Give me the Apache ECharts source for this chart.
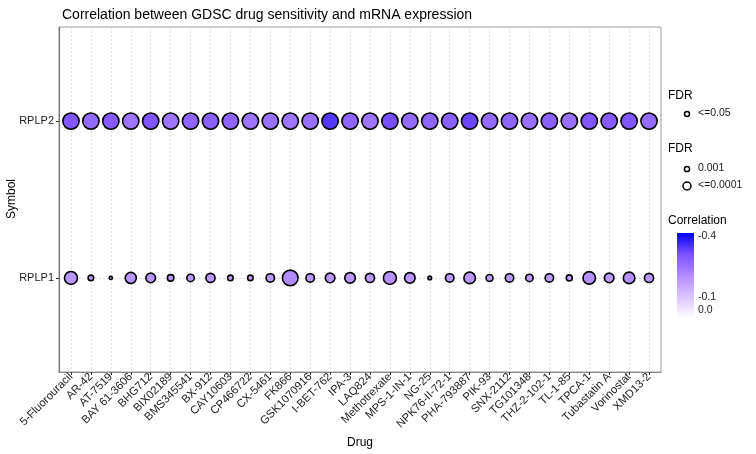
<!DOCTYPE html>
<html>
<head>
<meta charset="utf-8">
<script src="https://cdn.jsdelivr.net/npm/echarts@6/dist/echarts.min.js"></script>
<style>html,body{margin:0;padding:0;background:#fff}#c{width:756px;height:454px}</style>
</head>
<body>
<div id="c"></div>
<script>
const drugs = ["5-Fluorouracil","AR-42","AT-7519","BAY 61-3606","BHG712","BIX02189","BMS345541","BX-912","CAY10603","CP466722","CX-5461","FK866","GSK1070916","I-BET-762","IPA-3","LAQ824","Methotrexate","MPS-1-IN-1","NG-25","NPK76-II-72-1","PHA-793887","PIK-93","SNX-2112","TG101348","THZ-2-102-1","TL-1-85","TPCA-1","Tubastatin A","Vorinostat","XMD13-2"];
const symbols = ["RPLP1","RPLP2"];
// correlation values
const corrRPLP1 = [-0.19,-0.18,-0.17,-0.19,-0.19,-0.18,-0.18,-0.19,-0.18,-0.18,-0.19,-0.21,-0.19,-0.19,-0.19,-0.19,-0.20,-0.19,-0.17,-0.19,-0.19,-0.18,-0.19,-0.18,-0.19,-0.18,-0.20,-0.19,-0.20,-0.19];
const corrRPLP2 = [-0.31,-0.27,-0.30,-0.25,-0.31,-0.25,-0.28,-0.29,-0.28,-0.25,-0.26,-0.25,-0.26,-0.35,-0.28,-0.25,-0.32,-0.27,-0.28,-0.29,-0.33,-0.27,-0.28,-0.26,-0.29,-0.26,-0.31,-0.30,-0.31,-0.27];
// -log10(FDR)
const nlogFdrRPLP1 = [5.4,2.3,1.3,4.6,4.0,2.7,3.1,3.8,2.3,2.3,3.5,6.5,3.5,4.0,4.4,3.8,5.4,4.4,1.5,3.5,4.8,2.9,3.5,3.1,3.5,2.5,5.2,4.0,4.8,3.8];
const nlogFdrRPLP2 = [6.8,6.8,6.8,6.8,6.8,6.8,6.8,6.8,6.8,6.8,6.8,6.8,6.8,6.8,6.8,6.8,6.8,6.8,6.8,6.8,6.8,6.8,6.8,6.8,6.8,6.8,6.8,6.8,6.8,6.8];
const corrTicks = ["-0.4","-0.1","0.0"];

const stops = ['#0000ff','#7e52ff','#b38bff','#dcc4ff','#ffffff'];
const data = [];
[[corrRPLP1,nlogFdrRPLP1],[corrRPLP2,nlogFdrRPLP2]].forEach((pair,gi)=>{
  drugs.forEach((d,i)=>{ data.push([i+1, gi+1, pair[0][i], pair[1][i]]); });
});
const xs = drugs.map((d,i)=>i+1);
const ys = symbols.map((s,i)=>i+1);
const font = 'Liberation Sans, Arial, sans-serif';
const chart = echarts.init(document.getElementById('c'));
chart.setOption({
  animation:false,
  backgroundColor:'#fff',
  title:{text:'Correlation between GDSC drug sensitivity and mRNA expression',left:57,top:3,
    textStyle:{fontSize:14,fontWeight:'normal',color:'#000',fontFamily:font}},
  grid:{left:59,right:95,top:27,bottom:82,containLabel:false,outerBoundsMode:'none'},
  xAxis:{type:'value',min:0.4,max:30.6,name:'Drug',nameLocation:'middle',nameGap:64,
    nameTextStyle:{fontSize:12,color:'#000',fontFamily:font},
    axisLine:{show:true,onZero:false,lineStyle:{color:'#8a8a8a',width:1}},
    axisTick:{show:true,customValues:xs,length:3,lineStyle:{color:'#333'}},
    axisLabel:{customValues:xs,rotate:45,fontSize:11.3,color:'#222',fontFamily:font,margin:3,
      formatter:v=>drugs[Math.round(v)-1]},
    splitLine:{show:true,lineStyle:{color:'#d6d6d6',type:[2,2],width:0.8}}},
  yAxis:{type:'value',min:0.4,max:2.6,
    axisLine:{show:true,onZero:false,lineStyle:{color:'#777',width:1.2}},
    axisTick:{show:true,customValues:ys,length:3,lineStyle:{color:'#333'}},
    axisLabel:{customValues:ys,fontSize:11,color:'#222',fontFamily:font,margin:5,
      formatter:v=>symbols[Math.round(v)-1]},
    splitLine:{show:true,lineStyle:{color:'#d6d6d6',type:[2,2],width:0.8}}},
  visualMap:{show:false,type:'continuous',dimension:2,min:-0.42,max:0,inRange:{color:stops},seriesIndex:0},
  series:[{type:'scatter',data:data,
    symbolSize:v=>2.4*v[3],
    itemStyle:{borderColor:'#000',borderWidth:1.6,opacity:1}}],
  graphic:[
    {type:'rect',shape:{x:59,y:27,width:602,height:345},style:{fill:'none',stroke:'#9a9a9a',lineWidth:1},z:-1,silent:true},
    {type:'text',x:12,y:199,rotation:Math.PI/2,style:{text:'Symbol',fontSize:12,fill:'#000',fontFamily:font,align:'center',verticalAlign:'middle'}},
    {type:'text',left:668,top:90,style:{text:'FDR',fontSize:12,fill:'#000',fontFamily:font}},
    {type:'circle',shape:{cx:687,cy:114,r:2.5},style:{fill:'none',stroke:'#000',lineWidth:1.5}},
    {type:'text',left:698,top:108,style:{text:'<=0.05',fontSize:10.5,fill:'#222',fontFamily:font}},
    {type:'text',left:668,top:143,style:{text:'FDR',fontSize:12,fill:'#000',fontFamily:font}},
    {type:'circle',shape:{cx:687,cy:169,r:2.6},style:{fill:'none',stroke:'#000',lineWidth:1.5}},
    {type:'text',left:698,top:163,style:{text:'0.001',fontSize:10.5,fill:'#222',fontFamily:font}},
    {type:'circle',shape:{cx:687,cy:186,r:4},style:{fill:'none',stroke:'#000',lineWidth:1.5}},
    {type:'text',left:698,top:180,style:{text:'<=0.0001',fontSize:10.5,fill:'#222',fontFamily:font}},
    {type:'text',left:668,top:215,style:{text:'Correlation',fontSize:12,fill:'#000',fontFamily:font}},
    {type:'rect',shape:{x:677,y:233,width:17,height:85},style:{fill:new echarts.graphic.LinearGradient(0,0,0,1,
      stops.map((c,i)=>({offset:i/(stops.length-1),color:c})))}},
    {type:'text',left:698,top:231,style:{text:corrTicks[0],fontSize:10.5,fill:'#222',fontFamily:font}},
    {type:'text',left:698,top:292,style:{text:corrTicks[1],fontSize:10.5,fill:'#222',fontFamily:font}},
    {type:'text',left:698,top:305,style:{text:corrTicks[2],fontSize:10.5,fill:'#222',fontFamily:font}}
  ]
});
</script>
</body>
</html>
